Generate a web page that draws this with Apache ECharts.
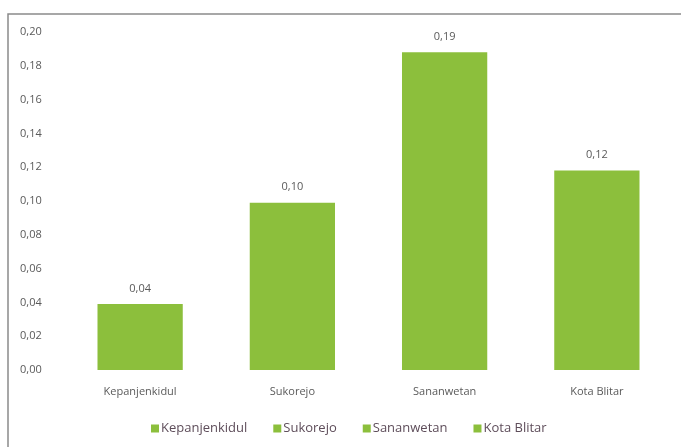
<!DOCTYPE html>
<html>
<head>
<meta charset="utf-8">
<script src="https://cdn.jsdelivr.net/npm/echarts@6/dist/echarts.min.js"></script>
<style>
  html, body { margin: 0; padding: 0; background: #fff; }
  #chart { width: 681px; height: 447px; }
</style>
</head>
<body>
<div id="chart"></div>
<script>
// data
var categories = ['Kepanjenkidul', 'Sukorejo', 'Sananwetan', 'Kota Blitar'];
var values = [0.039, 0.099, 0.188, 0.118];
var yTicks = { min: 0, max: 0.20, interval: 0.02 };

var green = '#8cbf3c';
var textColor = '#5a5a5a';

function comma(v) {
    return Number(v).toFixed(2).replace('.', ',');
}

var chart = echarts.init(document.getElementById('chart'), null, { renderer: 'canvas' });

// one series per category so the legend shows every name
var series = categories.map(function (name, i) {
    var d = categories.map(function (c, j) { return j === i ? values[i] : '-'; });
    return {
        name: name,
        type: 'bar',
        stack: 'all',
        barWidth: '56%',
        data: d,
        itemStyle: { color: green },
        label: {
            show: true,
            position: 'top',
            distance: 10,
            color: textColor,
            fontSize: 11,
            fontFamily: 'Open Sans',
            formatter: function (p) { return comma(p.value); }
        }
    };
});

var option = {
    backgroundColor: '#fff',
    animation: false,
    graphic: [{
        type: 'rect',
        shape: { x: 8, y: 14, width: 700, height: 460 },
        style: { fill: 'none', stroke: '#8a8a8a', lineWidth: 1.5 },
        silent: true
    }],
    grid: { left: 64, right: 8, top: 32, bottom: 77 },
    legend: {
        bottom: 7,
        left: 146,
        itemWidth: 8,
        itemHeight: 8,
        itemGap: 26,
        icon: 'rect',
        textStyle: { color: '#5e4d5a', fontSize: 13, fontFamily: 'Open Sans', padding: [0, 0, 0, -3] },
        data: categories
    },
    xAxis: {
        type: 'category',
        data: categories,
        axisLine: { show: false },
        axisTick: { show: false },
        axisLabel: { color: textColor, fontSize: 11, fontFamily: 'Open Sans', margin: 16 }
    },
    yAxis: {
        type: 'value',
        min: yTicks.min,
        max: yTicks.max,
        interval: yTicks.interval,
        splitLine: { show: false },
        axisLine: { show: false },
        axisTick: { show: false },
        axisLabel: {
            color: textColor,
            fontSize: 11,
            fontFamily: 'Open Sans',
            align: 'left',
            margin: 44,
            formatter: comma
        }
    },
    series: series
};

chart.setOption(option);
</script>
</body>
</html>
